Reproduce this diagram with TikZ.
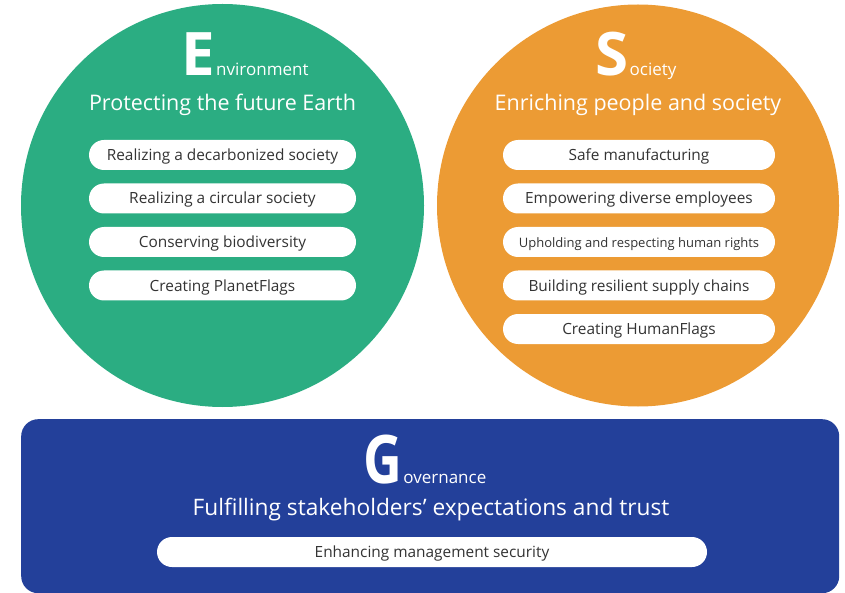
\documentclass[tikz,border=0pt]{standalone}
\usepackage{fontspec}
\setmainfont{Open Sans}
\definecolor{envgreen}{HTML}{2BAD82}
\definecolor{socorange}{HTML}{EC9B34}
\definecolor{govblue}{HTML}{23409A}
\definecolor{textgray}{HTML}{333333}
\begin{document}
\begin{tikzpicture}[x=1pt,y=-1pt,
  pill/.style={fill=white, rounded corners=15pt, minimum height=30pt, inner sep=0pt, text=textgray, text height=11pt, text depth=0pt, font=\fontsize{15.4}{18}\selectfont},
  envpill/.style={pill, minimum width=267pt},
  socpill/.style={pill, minimum width=272pt},
  headline/.style={text=white, inner sep=0pt, text height=15pt, text depth=0pt, font=\fontsize{21.5}{24}\selectfont},
  bigletter/.style={text=white, inner sep=0pt, anchor=base west, font=\fontsize{60}{60}\selectfont\bfseries},
  smallword/.style={text=white, inner sep=0pt, anchor=base west, font=\fontsize{17}{20}\selectfont}]
\useasboundingbox (0,0) rectangle (845,593);
% circles and box
\node[circle, fill=envgreen, minimum size=403pt, inner sep=0pt] (env) at (222.5,205.5) {};
\node[circle, fill=socorange, minimum size=402pt, inner sep=0pt] (soc) at (638,205.5) {};
\node[rectangle, rounded corners=17pt, fill=govblue, minimum width=818pt, minimum height=174pt, inner sep=0pt, anchor=north west] (gov) at (21,419) {};
% Environment
\node[bigletter] (eletter) at (181,75.5) {E};
\node[smallword] (eword) at ([xshift=1pt]eletter.base east) {nvironment};
\node[headline] (etitle) at (222.5,103.5) {Protecting the future Earth};
\node[envpill] (e1) at (222.5,155) {Realizing a decarbonized society};
\node[envpill] (e2) at (222.5,198.5) {Realizing a circular society};
\node[envpill] (e3) at (222.5,242) {Conserving biodiversity};
\node[envpill] (e4) at (222.5,285.5) {Creating PlanetFlags};
% Society
\node[bigletter] (sletter) at (595,75.5) {S};
\node[smallword] (sword) at ([xshift=1pt]sletter.base east) {ociety};
\node[headline] (stitle) at (638,103.5) {Enriching people and society};
\node[socpill] (s1) at (639,155) {Safe manufacturing};
\node[socpill] (s2) at (639,198.5) {Empowering diverse employees};
\node[socpill] (s3) at (639,242) {\fontsize{13}{16}\selectfont Upholding and respecting human rights};
\node[socpill] (s4) at (639,285.5) {Building resilient supply chains};
\node[socpill] (s5) at (639,329) {Creating HumanFlags};
% Governance
\node[bigletter, font=\fontsize{67}{67}\selectfont\bfseries] (gletter) at (363,483) {\scalebox{0.8}[1]{G}};
\node[smallword] (gword) at ([xshift=1pt]gletter.base east) {overnance};
\node[headline, font=\fontsize{22.7}{26}\selectfont] (gtitle) at (431,508) {Fulfilling stakeholders’ expectations and trust};
\node[pill, minimum width=550pt] (g1) at (432,552) {Enhancing management security};
\end{tikzpicture}
\end{document}
